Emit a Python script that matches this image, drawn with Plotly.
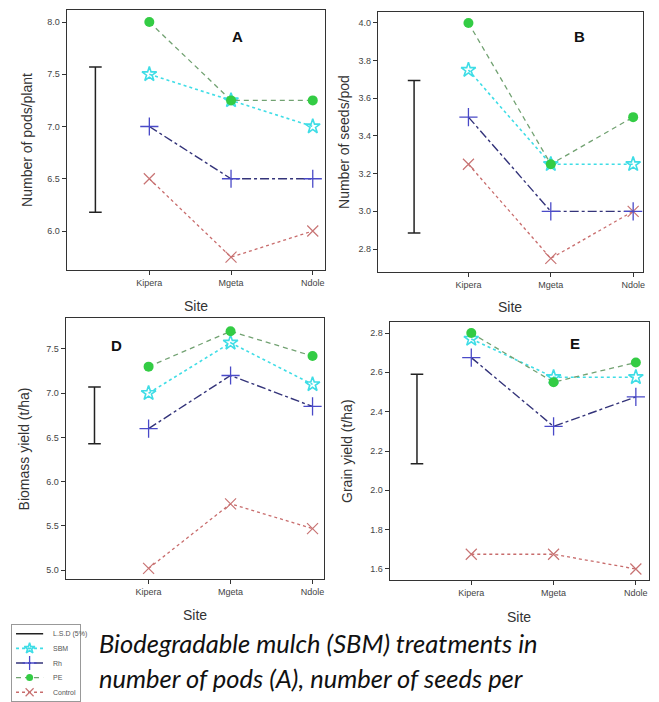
import plotly.graph_objects as go

# ---------------- data ----------------
sites = ["Kipera", "Mgeta", "Ndole"]
site_pos = [0, 1, 2]
treatments = ["SBM", "Rh", "PE", "Control"]

# Panel A: number of pods/plant
pods_sbm = [7.5, 7.25, 7.0]
pods_rh = [7.0, 6.5, 6.5]
pods_pe = [8.0, 7.25, 7.25]
pods_control = [6.5, 5.75, 6.0]
pods_lsd = [6.18, 7.57]

# Panel B: number of seeds/pod
seeds_sbm = [3.75, 3.25, 3.25]
seeds_rh = [3.5, 3.0, 3.0]
seeds_pe = [4.0, 3.25, 3.5]
seeds_control = [3.25, 2.75, 3.0]
seeds_lsd = [2.885, 3.695]

# Panel D: biomass yield (t/ha)
biomass_sbm = [7.0, 7.57, 7.1]
biomass_rh = [6.6, 7.2, 6.85]
biomass_pe = [7.3, 7.7, 7.42]
biomass_control = [5.02, 5.75, 5.47]
biomass_lsd = [6.43, 7.07]

# Panel E: grain yield (t/ha)
grain_sbm = [2.77, 2.575, 2.575]
grain_rh = [2.675, 2.325, 2.475]
grain_pe = [2.8, 2.55, 2.65]
grain_control = [1.675, 1.675, 1.6]
grain_lsd = [2.135, 2.59]

lsd_pos = -0.66

# ---------------- styles ----------------
W, H = 659, 702
styles = {
    "SBM": dict(line=dict(color="#3FDDE6", dash="dot", width=1.6),
                marker=dict(symbol="star-open", size=11, color="#3FDDE6", line=dict(width=1.6, color="#3FDDE6"))),
    "Rh": dict(line=dict(color="#34347A", dash="dashdot", width=1.4),
               marker=dict(symbol="cross-thin-open", size=13, color="#4A4AC8", line=dict(width=1.3, color="#4A4AC8"))),
    "PE": dict(line=dict(color="#72A272", dash="5px,4px", width=1.3),
               marker=dict(symbol="circle", size=10, color="#33CC44", line=dict(width=0))),
    "Control": dict(line=dict(color="#C86C6C", dash="dot", width=1.3),
                    marker=dict(symbol="x-thin-open", size=11, color="#C87474", line=dict(width=1.2, color="#C87474"))),
}

def px_x(a, b):
    return [a / W, b / W]

def px_y(top, bottom):
    return [1 - bottom / H, 1 - top / H]

panels = [
    dict(key="", data=[pods_sbm, pods_rh, pods_pe, pods_control], lsd=pods_lsd,
         dx=px_x(67, 326), dy=px_y(10, 270), yr=[5.627, 8.115], ticks=[6.0, 6.5, 7.0, 7.5, 8.0],
         xr=[-1.01, 2.15], ytitle="Number of pods/plant", label="A", lab=(238, 37),
         ytx=27, sitey=306),
    dict(key="2", data=[seeds_sbm, seeds_rh, seeds_pe, seeds_control], lsd=seeds_lsd,
         dx=px_x(379, 645), dy=px_y(12, 272), yr=[2.678, 4.058], ticks=[2.8, 3.0, 3.2, 3.4, 3.6, 3.8, 4.0],
         xr=[-1.10, 2.12], ytitle="Number of seeds/pod", label="B", lab=(581, 37),
         ytx=345, sitey=307),
    dict(key="3", data=[biomass_sbm, biomass_rh, biomass_pe, biomass_control], lsd=biomass_lsd,
         dx=px_x(66, 325), dy=px_y(318, 579), yr=[4.90, 7.85], ticks=[5.0, 5.5, 6.0, 6.5, 7.0, 7.5],
         xr=[-1.01, 2.14], ytitle="Biomass yield (t/ha)", label="D", lab=(117, 345),
         ytx=25, sitey=615),
    dict(key="4", data=[grain_sbm, grain_rh, grain_pe, grain_control], lsd=grain_lsd,
         dx=px_x(391, 651), dy=px_y(322, 580), yr=[1.544, 2.856], ticks=[1.6, 1.8, 2.0, 2.2, 2.4, 2.6, 2.8],
         xr=[-0.99, 2.16], ytitle="Grain yield (t/ha)", label="E", lab=(577, 343),
         ytx=348, sitey=617),
]

fig = go.Figure()
annotations = []
axis_font = dict(family="Liberation Sans, Arial, sans-serif", size=9, color="#444")
title_font = dict(family="Liberation Sans, Arial, sans-serif", size=14, color="#333")

for p in panels:
    k = p["key"]
    xa, ya = "x" + k, "y" + k
    # L.S.D bar
    fig.add_trace(go.Scatter(x=[lsd_pos, lsd_pos], y=p["lsd"], xaxis=xa, yaxis=ya,
                             mode="lines+markers", showlegend=False, hoverinfo="skip",
                             line=dict(color="#222", width=1.5),
                             marker=dict(symbol="line-ew-open", size=9, color="#222",
                                         line=dict(width=1.5, color="#222"))))
    for t in ["Control", "Rh", "SBM", "PE"]:
        vals = p["data"][treatments.index(t)]
        st = styles[t]
        fig.add_trace(go.Scatter(x=site_pos, y=vals, xaxis=xa, yaxis=ya, mode="lines+markers",
                                 name=t, showlegend=False, line=st["line"], marker=st["marker"]))
    fig.update_layout({
        "xaxis" + k: dict(domain=p["dx"], range=p["xr"], tickvals=site_pos, ticktext=sites,
                          showline=True, mirror=True, linecolor="#333", linewidth=1.3,
                          ticks="outside", ticklen=4, tickcolor="#333", showgrid=False,
                          zeroline=False, tickfont=axis_font, anchor=ya, fixedrange=True),
        "yaxis" + k: dict(domain=p["dy"], range=p["yr"], tickvals=p["ticks"], tickformat=".1f",
                          showline=True, mirror=True, linecolor="#333", linewidth=1.3,
                          ticks="outside", ticklen=4, tickcolor="#333", showgrid=False,
                          zeroline=False, tickfont=axis_font, anchor=xa, fixedrange=True),
    })
    xmid = (p["dx"][0] + p["dx"][1]) / 2
    ymid = (p["dy"][0] + p["dy"][1]) / 2
    annotations.append(dict(text="Site", x=xmid, y=1 - p["sitey"] / H, xref="paper", yref="paper",
                            xanchor="center", yanchor="middle", showarrow=False, font=title_font))
    annotations.append(dict(text=p["ytitle"], x=p["ytx"] / W, y=ymid, xref="paper", yref="paper",
                            xanchor="center", yanchor="middle", textangle=-90, showarrow=False,
                            font=title_font))
    annotations.append(dict(text="<b>" + p["label"] + "</b>", x=p["lab"][0] / W, y=1 - p["lab"][1] / H,
                            xref="paper", yref="paper", xanchor="center", yanchor="middle",
                            showarrow=False,
                            font=dict(family="Liberation Sans, Arial, sans-serif", size=15, color="#111")))

# ---------------- legend (small box bottom-left) ----------------
legend_names = ["L.S.D (5%)", "SBM", "Rh", "PE", "Control"]
legend_rows = [1, 2, 3, 4, 5]
for name, row in zip(legend_names, legend_rows):
    if name == "L.S.D (5%)":
        fig.add_trace(go.Scatter(x=[0.6, 4.6], y=[row, row], xaxis="x5", yaxis="y5", mode="lines",
                                 line=dict(color="#222", width=1.4), showlegend=False, hoverinfo="skip"))
    else:
        st = styles[name]
        fig.add_trace(go.Scatter(x=[0.6, 4.6], y=[row, row], xaxis="x5", yaxis="y5", mode="lines",
                                 line=st["line"], showlegend=False, hoverinfo="skip"))
        m = dict(st["marker"])
        m["size"] = max(m["size"] - 3, 6)
        fig.add_trace(go.Scatter(x=[2.6], y=[row], xaxis="x5", yaxis="y5", mode="markers",
                                 marker=m, showlegend=False, hoverinfo="skip"))
    annotations.append(dict(text=name, x=5.8, y=row, xref="x5", yref="y5", xanchor="left",
                            yanchor="middle", showarrow=False,
                            font=dict(family="Liberation Sans, Arial, sans-serif", size=7, color="#555")))

fig.update_layout(
    xaxis5=dict(domain=px_x(12, 80), range=[0, 10], showline=True, mirror=True, linecolor="#999",
                linewidth=1, showticklabels=False, ticks="", showgrid=False, zeroline=False,
                anchor="y5", fixedrange=True),
    yaxis5=dict(domain=px_y(625, 701), range=[5.6, 0.4], showline=True, mirror=True, linecolor="#999",
                linewidth=1, showticklabels=False, ticks="", showgrid=False, zeroline=False,
                anchor="x5", fixedrange=True),
)

# ---------------- caption ----------------
cap_font = dict(family="Lato, Open Sans, sans-serif", size=25.5, color="#111", style="italic")
annotations.append(dict(text="Biodegradable mulch (SBM) treatments in", x=97 / W, y=1 - 643 / H,
                        xref="paper", yref="paper", xanchor="left", yanchor="middle",
                        showarrow=False, font=cap_font))
annotations.append(dict(text="number of pods (A), number of seeds per", x=97 / W, y=1 - 678 / H,
                        xref="paper", yref="paper", xanchor="left", yanchor="middle",
                        showarrow=False, font=cap_font))

fig.update_layout(width=W, height=H, margin=dict(l=0, r=0, t=0, b=0),
                  paper_bgcolor="white", plot_bgcolor="white", annotations=annotations,
                  showlegend=False)

fig.write_html("out.html", config={"displayModeBar": False},
               post_script="document.body.style.margin='0px';")
